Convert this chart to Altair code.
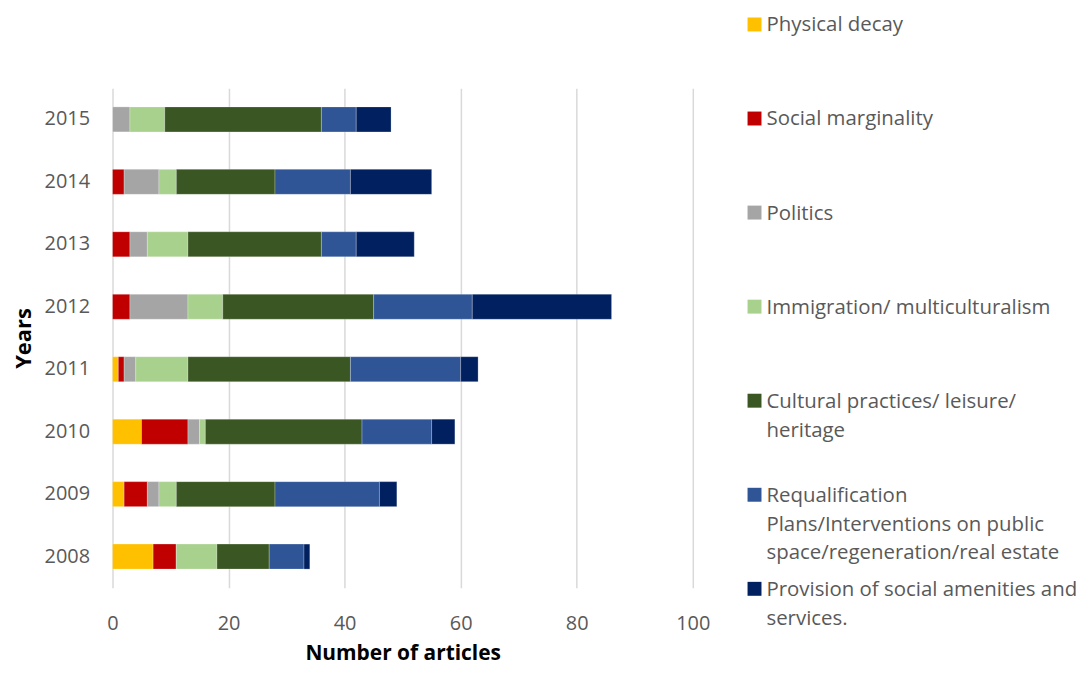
import altair as alt
import pandas as pd

years = ["2008", "2009", "2010", "2011", "2012", "2013", "2014", "2015"]
categories = [
    "Physical decay",
    "Social marginality",
    "Politics",
    "Immigration/ multiculturalism",
    "Cultural practices/ leisure/ heritage",
    "Requalification Plans/Interventions on public space/regeneration/real estate",
    "Provision of social amenities and services.",
]
legend_labels = [
    "Physical decay",
    "Social marginality",
    "Politics",
    "Immigration/ multiculturalism",
    "Cultural practices/ leisure/\nheritage",
    "Requalification\nPlans/Interventions on public\nspace/regeneration/real estate",
    "Provision of social amenities and\nservices.",
]
colors = ["#FFC000", "#C00000", "#A5A5A5", "#A9D18E", "#3A5723", "#2F5597", "#002060"]

physical_decay = [7, 2, 5, 1, 0, 0, 0, 0]
social_marginality = [4, 4, 8, 1, 3, 3, 2, 0]
politics = [0, 2, 2, 2, 10, 3, 6, 3]
immigration = [7, 3, 1, 9, 6, 7, 3, 6]
cultural = [9, 17, 27, 28, 26, 23, 17, 27]
requalification = [6, 18, 12, 19, 17, 6, 13, 6]
provision = [1, 3, 4, 3, 24, 10, 14, 6]

series = [physical_decay, social_marginality, politics, immigration,
          cultural, requalification, provision]

rows = []
for ci, (cat, vals) in enumerate(zip(categories, series)):
    for y, v in zip(years, vals):
        rows.append({"Year": y, "Category": cat, "Count": v, "order": ci})
df = pd.DataFrame(rows)

leg = pd.DataFrame({"Category": categories, "Label": legend_labels})

FONT = "Open Sans"
GREY = "#595959"

color_scale = alt.Scale(domain=categories, range=colors)

bars = alt.Chart(df).mark_bar(stroke="white", strokeWidth=0.4, strokeOpacity=0.6).encode(
    x=alt.X("Count:Q", stack="zero",
            scale=alt.Scale(domain=[0, 100], nice=False),
            axis=alt.Axis(values=[0, 20, 40, 60, 80, 100], title="Number of articles",
                          labelFontSize=20, labelColor=GREY, labelFont=FONT,
                          labelPadding=26, labelFlush=False,
                          titleFontSize=21, titleFont=FONT,
                          titleFontWeight="bold", titleColor="black", titlePadding=9,
                          ticks=False, domain=False, grid=True,
                          gridColor="#D9D9D9", gridWidth=1.5)),
    y=alt.Y("Year:N", sort="descending",
            scale=alt.Scale(paddingInner=0.6, paddingOuter=0.3),
            axis=alt.Axis(title="Years", labelFontSize=20, labelColor=GREY,
                          labelFont=FONT, labelPadding=23, titleFontSize=22,
                          titleFont=FONT, titleFontWeight="bold", titleColor="black",
                          titlePadding=9, ticks=False, domain=False)),
    color=alt.Color("Category:N", scale=color_scale, legend=None),
    order=alt.Order("order:Q", sort="ascending"),
).properties(width=583, height=502)

legend_y = alt.Y("Category:N", sort=categories, axis=None,
                 scale=alt.Scale(type="point", padding=0, range=[-64, 503]))

leg_sq = alt.Chart(leg).mark_square(size=196, opacity=1).encode(
    y=legend_y,
    x=alt.value(38),
    color=alt.Color("Category:N", scale=color_scale, legend=None),
)
leg_tx = alt.Chart(leg).mark_text(
    align="left", baseline="alphabetic", dy=7, lineBreak="\n", lineHeight=29,
    font=FONT, fontSize=20.5, color=GREY,
).encode(
    y=legend_y,
    x=alt.value(50),
    text="Label:N",
)
legend = alt.layer(leg_sq, leg_tx).properties(width=320, height=502)

chart = alt.hconcat(bars, legend, spacing=6).properties(
    padding={"left": 4, "top": 6, "right": 0, "bottom": 0},
    background="white",
).configure_view(stroke=None)

chart.save("out.html", embed_options={"renderer": "svg", "actions": False})
